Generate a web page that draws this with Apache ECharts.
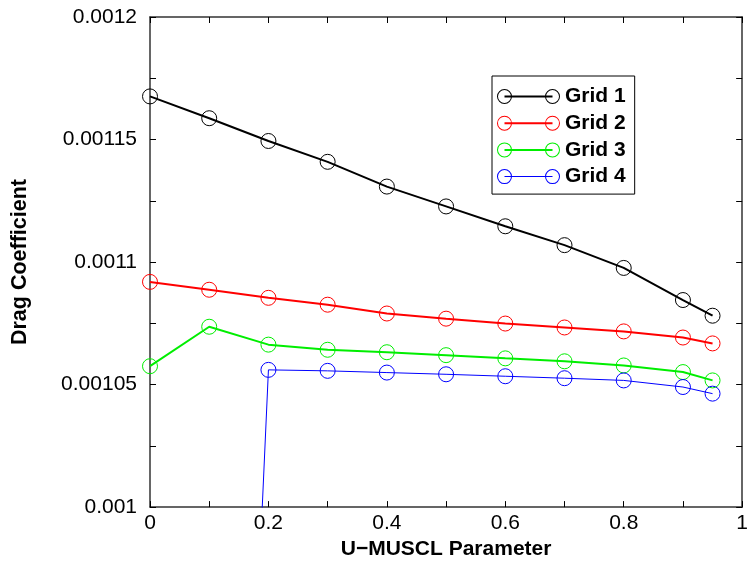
<!DOCTYPE html>
<html>
<head>
<meta charset="utf-8">
<script src="https://cdn.jsdelivr.net/npm/echarts@6/dist/echarts.min.js"></script>
<style>
html,body{margin:0;padding:0;background:#fff;}
#chart{width:751px;height:565px;}
</style>
</head>
<body>
<div id="chart"></div>
<script>
// ---- data ----
var xValues = [0, 0.1, 0.2, 0.3, 0.4, 0.5, 0.6, 0.7, 0.8, 0.9, 0.95];
var seriesNames = ['Grid 1', 'Grid 2', 'Grid 3', 'Grid 4'];
var grid1 = [0.0011676, 0.0011587, 0.0011494, 0.0011409, 0.0011308, 0.0011227, 0.0011146, 0.0011069, 0.0010976, 0.0010845, 0.0010781];
var grid2 = [0.0010919, 0.0010887, 0.0010854, 0.0010826, 0.0010790, 0.0010769, 0.0010749, 0.0010733, 0.0010717, 0.0010692, 0.0010668];
var grid3 = [0.0010575, 0.0010736, 0.0010663, 0.0010642, 0.0010632, 0.0010620, 0.0010607, 0.0010595, 0.0010578, 0.0010551, 0.0010517];
var grid4 = [null, 0.00052, 0.0010560, 0.0010556, 0.0010549, 0.0010542, 0.0010534, 0.0010526, 0.0010517, 0.0010490, 0.0010463];
var xTickLabels = ['0', '0.2', '0.4', '0.6', '0.8', '1'];
var yTickLabels = ['0.001', '0.00105', '0.0011', '0.00115', '0.0012'];

var allSeries = [grid1, grid2, grid3, grid4];
var colors = ['#000000', '#ff0000', '#00ee00', '#0000ff'];
var lineWidths = [2, 2, 2, 1];
var FONT = "'Liberation Sans', Arial, Helvetica, sans-serif";

function pairs(vals) {
  return xValues.map(function (x, i) { return [x, vals[i]]; });
}
function legendIcon(lw) {
  var y0 = 7.5 - lw / 2, y1 = 7.5 + lw / 2;
  function ring(cx) {
    var l = cx - 7.5, r = cx + 7.5, li = cx - 6.5, ri = cx + 6.5;
    return 'M' + l + ',7.5 A7.5,7.5 0 1,1 ' + r + ',7.5 A7.5,7.5 0 1,1 ' + l + ',7.5 Z ' +
           'M' + li + ',7.5 A6.5,6.5 0 1,0 ' + ri + ',7.5 A6.5,6.5 0 1,0 ' + li + ',7.5 Z ';
  }
  return 'path://' + ring(7.5) + ring(55.5) +
    'M7.5,' + y0 + ' L55.5,' + y0 + ' L55.5,' + y1 + ' L7.5,' + y1 + ' Z';
}
function fmtY(v) {
  var s = String(Number(v.toFixed(7)));
  return yTickLabels.indexOf(s) >= 0 ? s : '';
}
function fmtX(v) {
  var s = String(Number(v.toFixed(3)));
  return xTickLabels.indexOf(s) >= 0 ? s : '';
}

var axisLineStyle = { color: '#333', width: 1.5 };
var tickStyle = { color: '#000', width: 1 };

var chart = echarts.init(document.getElementById('chart'), null, { renderer: 'canvas' });
chart.setOption({
  animation: false,
  backgroundColor: '#ffffff',
  textStyle: { fontFamily: FONT },
  grid: { left: 150, right: 6, top: 17, bottom: 54, containLabel: false },
  legend: {
    orient: 'vertical',
    left: 492, top: 76,
    padding: [10, 9, 7, 5],
    itemWidth: 63, itemHeight: 15, itemGap: 5.7,
    borderColor: '#000', borderWidth: 1,
    backgroundColor: '#fff',
    textStyle: { fontFamily: FONT, fontSize: 21, fontWeight: 'bold', color: '#000' },
    data: seriesNames.map(function (n, i) {
      return { name: n, icon: legendIcon(lineWidths[i]),
        itemStyle: { color: colors[i], borderWidth: 0, borderColor: 'transparent' } };
    })
  },
  xAxis: [{
    type: 'value', min: 0, max: 1, interval: 0.2,
    name: 'U\u2212MUSCL Parameter', nameLocation: 'middle', nameGap: 28,
    nameTextStyle: { fontFamily: FONT, fontSize: 21, fontWeight: 'bold', color: '#000' },
    axisLine: { onZero: false, lineStyle: axisLineStyle },
    axisTick: { inside: true, length: 6, lineStyle: tickStyle },
    minorTick: { show: true, splitNumber: 2, length: 6, lineStyle: tickStyle },
    axisLabel: { fontFamily: FONT, fontSize: 21, color: '#000', margin: 6, formatter: fmtX },
    splitLine: { show: false }
  }, {
    type: 'value', min: 0, max: 1, interval: 0.2, position: 'top',
    axisLine: { onZero: false, lineStyle: axisLineStyle },
    axisTick: { inside: true, length: 6, lineStyle: tickStyle },
    minorTick: { show: true, splitNumber: 2, length: 6, lineStyle: tickStyle },
    axisLabel: { show: false }, splitLine: { show: false }
  }],
  yAxis: [{
    type: 'value', min: 0.001, max: 0.0012, interval: 0.00005,
    name: 'Drag Coefficient', nameLocation: 'middle', nameGap: 119,
    nameTextStyle: { fontFamily: FONT, fontSize: 21.5, fontWeight: 'bold', color: '#000' },
    axisLine: { onZero: false, lineStyle: axisLineStyle },
    axisTick: { inside: true, length: 6, lineStyle: tickStyle },
    minorTick: { show: true, splitNumber: 2, length: 6, lineStyle: tickStyle },
    axisLabel: { fontFamily: FONT, fontSize: 21, color: '#000', margin: 13, formatter: fmtY },
    splitLine: { show: false }
  }, {
    type: 'value', min: 0.001, max: 0.0012, interval: 0.00005, position: 'right',
    axisLine: { onZero: false, lineStyle: axisLineStyle },
    axisTick: { inside: true, length: 6, lineStyle: tickStyle },
    minorTick: { show: true, splitNumber: 2, length: 6, lineStyle: tickStyle },
    axisLabel: { show: false }, splitLine: { show: false }
  }],
  series: allSeries.map(function (vals, i) {
    return {
      name: seriesNames[i], type: 'line',
      xAxisIndex: 0, yAxisIndex: 0,
      data: pairs(vals),
      clip: true,
      color: colors[i],
      symbol: 'circle', symbolSize: 15,
      itemStyle: { color: 'rgba(0,0,0,0)', borderColor: colors[i], borderWidth: 1 },
      lineStyle: { color: colors[i], width: lineWidths[i] },
      emphasis: { disabled: true }
    };
  })
});
</script>
</body>
</html>
